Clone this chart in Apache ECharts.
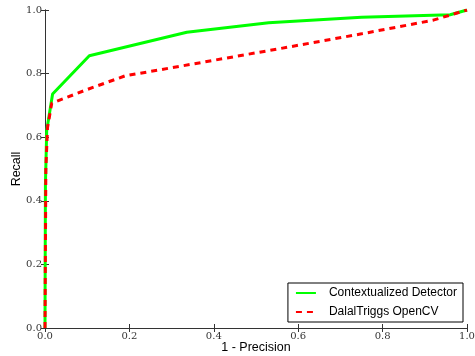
<!DOCTYPE html>
<html lang="en">
<head>
    <meta charset="UTF-8">
    <title>Recall vs 1 - Precision</title>
    <script src="https://cdn.jsdelivr.net/npm/echarts@6/dist/echarts.min.js"></script>
    <style>
        html, body { margin: 0; padding: 0; background: #fff; }
    </style>
</head>
<body>
    <div id="chart" style="width: 475px; height: 356px;"></div>
    <script type="text/javascript">
    // curve points
    var seriesNames = ['Contextualized Detector', 'DalalTriggs OpenCV'];
    var ctxX = [0, 0.001, 0.004, 0.018, 0.105, 0.336, 0.53, 0.75, 0.96, 1.0];
    var ctxY = [0, 0.45, 0.62, 0.736, 0.856, 0.93, 0.96, 0.977, 0.985, 1.0];
    var dtX = [0, 0.002, 0.006, 0.016, 0.1, 0.19, 0.35, 0.55, 0.75, 0.92, 1.0];
    var dtY = [0, 0.5, 0.63, 0.707, 0.75, 0.793, 0.83, 0.877, 0.925, 0.968, 1.0];
    var tickLabels = ['0.0', '0.2', '0.4', '0.6', '0.8', '1.0'];

    function pairs(xs, ys) {
        return xs.map(function (x, i) { return [x, ys[i]]; });
    }
    function tickFmt(v) {
        return tickLabels[Math.round(v / 0.2)];
    }

    var tickFont = { fontFamily: 'DejaVu Serif', fontSize: 10, color: '#333' };
    var nameFont = { fontFamily: 'Liberation Sans', fontSize: 12.5, color: '#000' };
    var axisLine = { show: true, lineStyle: { color: '#333', width: 1 } };
    var ticks = { show: true, inside: true, length: 4, lineStyle: { color: '#333' } };

    var chart = echarts.init(document.getElementById('chart'));
    chart.setOption({
        animation: false,
        grid: { left: 45, right: 8, top: 10, bottom: 28, containLabel: false, outerBoundsMode: 'none' },
        xAxis: [{
            type: 'value', min: 0, max: 1, interval: 0.2,
            name: '1 - Precision', nameLocation: 'middle', nameGap: 13, nameMoveOverlap: false,
            nameTextStyle: nameFont,
            axisLine: axisLine, axisTick: ticks, splitLine: { show: false },
            axisLabel: Object.assign({ margin: 3, formatter: tickFmt }, tickFont)
        }, {
            type: 'value', min: 0, max: 1, interval: 0.2, position: 'top',
            axisLine: axisLine, axisTick: ticks, splitLine: { show: false },
            axisLabel: { show: false }
        }],
        yAxis: [{
            type: 'value', min: 0, max: 1, interval: 0.2,
            name: 'Recall', nameLocation: 'middle', nameGap: 22, nameMoveOverlap: false,
            nameTextStyle: nameFont,
            axisLine: axisLine, axisTick: ticks, splitLine: { show: false },
            axisLabel: Object.assign({ margin: 3, formatter: tickFmt }, tickFont)
        }, {
            type: 'value', min: 0, max: 1, interval: 0.2, position: 'right',
            axisLine: axisLine, axisTick: ticks, splitLine: { show: false },
            axisLabel: { show: false }
        }],
        legend: {
            orient: 'vertical', right: 12, bottom: 34,
            backgroundColor: '#fff', borderColor: '#000', borderWidth: 1, borderRadius: 0,
            padding: [4, 6, 4, 7], itemGap: 7, itemWidth: 20, itemHeight: 12,
            itemStyle: { opacity: 0 },
            textStyle: { fontFamily: 'Liberation Sans', fontSize: 12, color: '#000', padding: [0, 0, 0, 8] },
            data: seriesNames
        },
        series: [{
            name: seriesNames[0], type: 'line', symbol: 'none',
            lineStyle: { color: '#00ff00', width: 3 }, itemStyle: { color: '#00ff00' },
            data: pairs(ctxX, ctxY)
        }, {
            name: seriesNames[1], type: 'line', symbol: 'none',
            lineStyle: { color: '#ff0000', width: 3, type: [6, 5] }, itemStyle: { color: '#ff0000' },
            data: pairs(dtX, dtY)
        }]
    });
    </script>
</body>
</html>
